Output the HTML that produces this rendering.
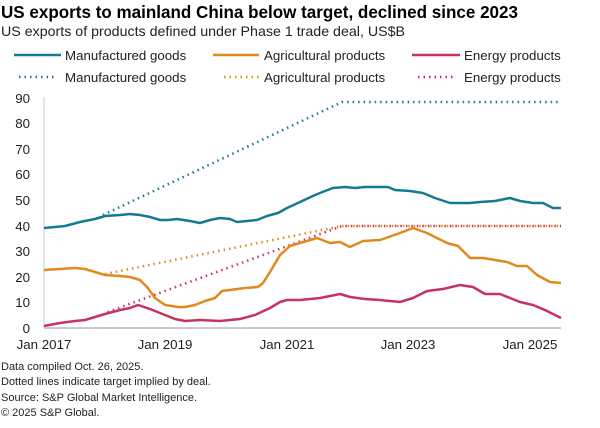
<!DOCTYPE html>
<html><head><meta charset="utf-8"><style>
body{margin:0;background:#fff;width:600px;height:423px;overflow:hidden;font-family:"Liberation Sans",Arial,sans-serif;}
</style></head><body>
<svg width="600" height="423" xmlns="http://www.w3.org/2000/svg" font-family="Liberation Sans, Arial, sans-serif">
<text x="1" y="18" font-size="17.5" font-weight="bold" fill="#000" textLength="517" lengthAdjust="spacingAndGlyphs">US exports to mainland China below target, declined since 2023</text>
<text x="1" y="36" font-size="14" fill="#222" textLength="404" lengthAdjust="spacingAndGlyphs">US exports of products defined under Phase 1 trade deal, US$B</text>
<g font-size="13.3" fill="#222">
<line x1="14" y1="55" x2="61" y2="55" stroke="#147a94" stroke-width="2.5"/><text x="65" y="60">Manufactured goods</text>
<line x1="213" y1="55" x2="259" y2="55" stroke="#e08a1e" stroke-width="2.5"/><text x="264" y="60">Agricultural products</text>
<line x1="412" y1="55" x2="460" y2="55" stroke="#c8325e" stroke-width="2.5"/><text x="464" y="60">Energy products</text>
<line x1="19" y1="77" x2="57" y2="77" stroke="#147a94" stroke-width="2.5" stroke-dasharray="1.5 4"/><text x="65" y="82">Manufactured goods</text>
<line x1="224" y1="77" x2="262" y2="77" stroke="#e08a1e" stroke-width="2.5" stroke-dasharray="1.5 4"/><text x="264" y="82">Agricultural products</text>
<line x1="418" y1="77" x2="456" y2="77" stroke="#c8325e" stroke-width="2.5" stroke-dasharray="1.5 4"/><text x="464" y="82">Energy products</text>
</g>
<g font-size="13.3" fill="#222" text-anchor="end">
<text x="30" y="103">90</text><text x="30" y="128">80</text><text x="30" y="154">70</text><text x="30" y="179">60</text><text x="30" y="205">50</text><text x="30" y="231">40</text><text x="30" y="256">30</text><text x="30" y="282">20</text><text x="30" y="307">10</text><text x="30" y="333">0</text>
</g>
<line x1="44" y1="97" x2="44" y2="328" stroke="#ccc" stroke-width="1"/>
<line x1="44" y1="328" x2="561" y2="328" stroke="#ccc" stroke-width="2"/>
<g font-size="13.3" fill="#222" text-anchor="middle">
<text x="44" y="349">Jan 2017</text><text x="165" y="349">Jan 2019</text><text x="287" y="349">Jan 2021</text><text x="408" y="349">Jan 2023</text><text x="530" y="349">Jan 2025</text>
</g>
<g fill="none" stroke-width="2.5" stroke-dasharray="1.5 4">
<polyline stroke="#147a94" points="103,215 342,102 561,102"/>
<polyline stroke="#e08a1e" points="105,274 342,226 561,226"/>
<polyline stroke="#c8325e" stroke-dashoffset="2.7" points="105,313 342,226 561,226"/>
</g>
<g fill="none" stroke-width="2.5" stroke-linejoin="round">
<polyline stroke="#147a94" points="44,228 55,227 65,226 80,222 95,219 105,216 120,215 130,214 140,215 150,217 160,220 168,220 177,219 190,221 200,223 210,220 220,218 230,219 237,222 247,221 257,220 267,216 278,213 287,208 300,202 315,195 325,191 333,188 345,187 355,188 365,187 388,187 395,190 410,191 423,193 435,198 450,203 470,203 480,202 495,201 510,198 520,201 533,203 543,203 553,208 561,208"/>
<polyline stroke="#e08a1e" points="44,270 60,269 75,268 85,269 95,272 105,275 120,276 130,277 140,280 147,287 155,298 165,305 178,307 185,307 195,305 205,301 215,298 222,291 230,290 245,288 258,287 263,283 270,272 280,255 290,246 300,243 317,238 330,243 340,242 350,247 363,241 380,240 400,233 413,228 427,233 447,243 458,246 470,258 483,258 507,262 517,266 527,266 537,275 550,282 561,283"/>
<polyline stroke="#c8325e" points="44,326 60,323 75,321 85,320 95,317 105,314 120,310 130,308 138,305 150,309 165,315 175,319 185,321 200,320 220,321 240,319 255,315 270,308 280,302 287,300 300,300 320,298 330,296 340,294 350,297 365,299 380,300 400,302 413,298 427,291 443,289 460,285 473,287 485,294 500,294 520,302 533,305 545,310 561,318"/>
</g>
<g font-size="11" fill="#222">
<text x="1" y="370">Data compiled Oct. 26, 2025.</text>
<text x="1" y="385">Dotted lines indicate target implied by deal.</text>
<text x="1" y="401">Source: S&amp;P Global Market Intelligence.</text>
<text x="1" y="416">© 2025 S&amp;P Global.</text>
</g>
</svg>
</body></html>
